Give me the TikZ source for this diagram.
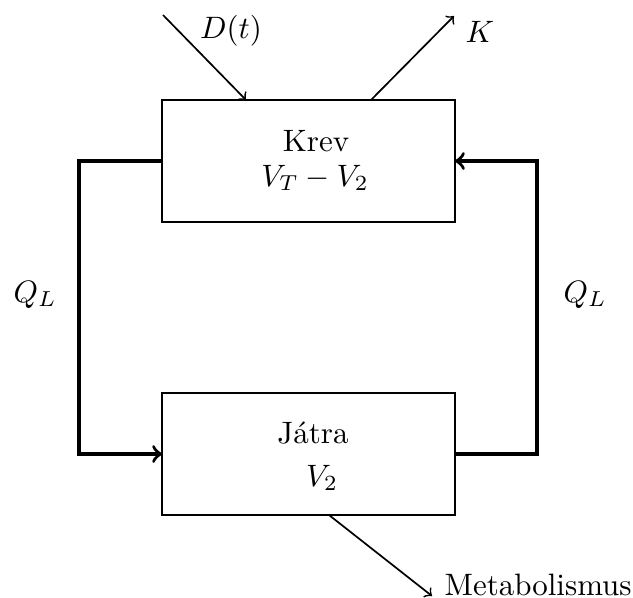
\documentclass[tikz,border=0pt]{standalone}
\usetikzlibrary{calc}
\begin{document}
\begin{tikzpicture}[x=0.323pt,y=-0.323pt,
 box/.style={draw,line width=0.45pt,minimum width=94.64pt,minimum height=39.41pt,inner sep=0pt,outer sep=0pt},
 lbl/.style={inner sep=0pt,anchor=base},
 lblw/.style={inner sep=0pt,anchor=base west},
 flow/.style={->,line width=0.55pt},
 ret/.style={->,line width=1.1pt}]
\useasboundingbox (0,0) rectangle (633,597);
\node[box] (krev) at (308.5,161) {};
\node[box] (jatra) at (308.5,454) {};
\node[lbl] (krevt) at (316,151) {Krev};
\node[lbl] (krevv) at (315,186) {$V_T - V_2$};
\node[lbl] (jatrat) at (313,443) {Játra};
\node[lbl] (jatrav) at (322,486) {$V_2$};
\node[lbl] (dlab) at (231,38) {$D(t)$};
\node[lblw] (klab) at (465,42) {$K$};
\node[lblw] (qleft) at (13,302) {$Q_L$};
\node[lblw] (qright) at (563,302) {$Q_L$};
\node[lblw] (met) at (444,595) {Metabolismus};
\coordinate (dstart) at (163,15);
\coordinate (kend) at (454,16);
\coordinate (mend) at (432,596);
\draw[flow] (dstart) -- ($(krev.north west)+(84,0)$);
\draw[flow] ($(krev.north west)+(209,0)$) -- (kend);
\draw[flow] ($(jatra.south west)+(167,0)$) -- (mend);
\draw[ret] (krev.west) -- ++(-83,0) |- (jatra.west);
\draw[ret] (jatra.east) -- ++(82,0) |- (krev.east);
\end{tikzpicture}
\end{document}
